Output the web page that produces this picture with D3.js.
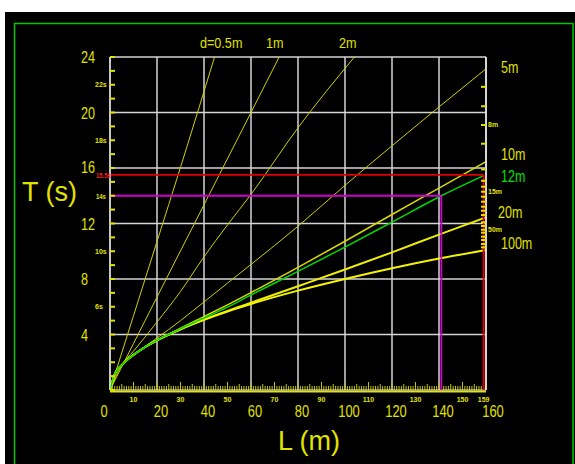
<!DOCTYPE html>
<html>
<head>
<meta charset="utf-8">
<script src="https://cdn.jsdelivr.net/npm/d3@7"></script>
<style>
  html, body { margin: 0; padding: 0; background: #fff; }
  svg { display: block; font-family: "Liberation Sans", Arial, sans-serif; }
</style>
</head>
<body>
<script>
// wave period T (s) against wave length L (m), one curve per water depth d

// steep shallow-water lines, each stops where it leaves the top of the chart
var lengths05 = [0, 10, 20, 30, 44.5];
var periods05 = [0, 5.35, 10.7, 16.05, 24];
var lengths1  = [0, 10, 20, 40, 60, 72];
var periods1  = [0, 3.35, 6.7, 13.35, 20.0, 24];
var lengths2  = [0, 5, 10, 20, 30, 40, 50, 60, 80, 104];
var periods2  = [0, 1.8, 2.8, 4.9, 7.1, 9.6, 11.9, 14.1, 18.9, 24];

// deeper curves read on a common length grid
var lengthGrid = [0, 2, 5, 10, 15, 20, 30, 40, 50, 60, 80, 100, 120, 140, 160];
var periods5   = [0, 1.13, 1.79, 2.54, 3.15, 3.75, 5.0, 6.35, 7.7, 9.05, 11.8, 14.75, 17.6, 20.4, 23.15];
var periods10  = [0, 1.13, 1.79, 2.53, 3.1, 3.59, 4.45, 5.29, 6.14, 7.02, 8.84, 10.72, 12.65, 14.55, 16.45];
var periods20  = [0, 1.13, 1.79, 2.53, 3.1, 3.58, 4.38, 5.07, 5.7, 6.29, 7.48, 8.68, 9.92, 11.2, 12.45];
var periods100 = [0, 1.13, 1.79, 2.53, 3.1, 3.58, 4.38, 5.06, 5.66, 6.2, 7.16, 8.0, 8.77, 9.47, 10.1];

// the highlighted 12 m curve ends on the red marker
var lengths12 = [0, 2, 5, 10, 15, 20, 30, 40, 50, 60, 80, 100, 120, 141, 159];
var periods12 = [0, 1.13, 1.79, 2.53, 3.1, 3.58, 4.41, 5.18, 5.97, 6.85, 8.55, 10.3, 12.1, 14.0, 15.45];

// reading markers (horizontal T, vertical L)
var markerT = [15.5, 14];
var markerL = [159, 141];
var markerText = ["15.5s", "14s"];

// axis labels
var periodMajor = [4, 8, 12, 16, 20, 24];
var periodMinorLabels = [22, 18, 10, 6];
var lengthMajor = [0, 20, 40, 60, 80, 100, 120, 140, 160];
var lengthMinorLabels = [10, 30, 50, 70, 90, 110, 130, 150, 159];

// depth ticks along the right edge (period at L = 160 m)
var rightTicks  = [21.85, 20.45, 19.1, 17.75, 15.9, 15.08, 14.65, 14.29, 13.93, 13.57, 13.21, 12.92, 12.61,
                   12.09, 11.82, 11.55, 11.34, 11.05, 10.81, 10.52, 10.28];
var rightLabels = ["", "", "8m", "", "", "", "", "15m", "", "", "", "", "",
                   "", "", "50m", "", "", "", "", ""];

var W = 575, H = 464;
var YEL = "#e2e200", GRID = "#d4d4d4";

var x = d3.scaleLinear().domain([0, 160]).range([110, 486]);
var y = d3.scaleLinear().domain([0, 24]).range([390, 57]);

var svg = d3.select("body").append("svg")
    .attr("width", W)
    .attr("height", H);

svg.append("rect").attr("width", W).attr("height", H).attr("fill", "#fff");
svg.append("rect").attr("x", 5).attr("y", 12).attr("width", W - 5).attr("height", H - 12).attr("fill", "#000");
svg.append("rect")
    .attr("x", 14.5).attr("y", 23.5)
    .attr("width", 558.5).attr("height", 500)
    .attr("fill", "none").attr("stroke", "#00c800").attr("stroke-width", 1.5);

// squeeze text to the narrow look of the original
function squeeze(sel, k) {
  sel.each(function() {
    var w = this.getComputedTextLength();
    d3.select(this).attr("textLength", w * k).attr("lengthAdjust", "spacingAndGlyphs");
  });
}

// grid
var grid = svg.append("g").attr("stroke", GRID).attr("stroke-width", 1.5);
grid.selectAll(".hg").data(periodMajor).enter().append("line")
    .attr("x1", x(0)).attr("x2", x(160))
    .attr("y1", function(d) { return y(d); })
    .attr("y2", function(d) { return y(d); });
grid.selectAll(".vg").data(lengthMajor).enter().append("line")
    .attr("x1", function(d) { return x(d); })
    .attr("x2", function(d) { return x(d); })
    .attr("y1", y(0)).attr("y2", y(24));

// bottom ruler ticks every metre
var rulerMetres = d3.range(0, 161);
svg.append("g").attr("stroke", "#c8c800").attr("stroke-width", 1)
  .selectAll("line").data(rulerMetres).enter().append("line")
    .attr("x1", function(d) { return x(d); })
    .attr("x2", function(d) { return x(d); })
    .attr("y1", y(0))
    .attr("y2", function(d) { return y(0) - (d % 10 === 0 ? 8 : d % 5 === 0 ? 6 : 4); });
svg.append("line").attr("x1", x(0)).attr("x2", x(160)).attr("y1", 391.5).attr("y2", 391.5)
    .attr("stroke", YEL).attr("stroke-width", 2);
svg.append("line").attr("x1", x(0)).attr("x2", x(160)).attr("y1", 390).attr("y2", 390)
    .attr("stroke", "#f0f0f0").attr("stroke-width", 1);

// curves
svg.append("clipPath").attr("id", "plot")
  .append("rect").attr("x", x(0)).attr("y", y(24)).attr("width", x(160) - x(0)).attr("height", y(0) - y(24));

var line = d3.line()
    .x(function(d) { return x(d[0]); })
    .y(function(d) { return y(d[1]); })
    .curve(d3.curveMonotoneX);

function pairs(ls, ts) { return ls.map(function(l, i) { return [l, ts[i]]; }); }

var curves = [
  {pts: pairs(lengths05, periods05), color: "#d0d000", w: 1},
  {pts: pairs(lengths1, periods1), color: "#d0d000", w: 1},
  {pts: pairs(lengths2, periods2), color: "#d0d000", w: 1},
  {pts: pairs(lengthGrid, periods5), color: "#d0d000", w: 1},
  {pts: pairs(lengthGrid, periods10), color: "#d8d800", w: 1.5},
  {pts: pairs(lengthGrid, periods20), color: "#eeee00", w: 2},
  {pts: pairs(lengthGrid, periods100), color: "#f4f400", w: 2},
  {pts: pairs(lengths12, periods12), color: "#00d800", w: 1.5}
];

svg.append("g").attr("clip-path", "url(#plot)")
  .selectAll("path").data(curves).enter().append("path")
    .attr("d", function(d) { return line(d.pts); })
    .attr("fill", "none")
    .attr("stroke", function(d) { return d.color; })
    .attr("stroke-width", function(d) { return d.w; });

// reading markers
var markerColor = ["#e00000", "#d000d0"];
var markers = svg.append("g");
markerT.forEach(function(t, i) {
  markers.append("line")
      .attr("x1", x(0)).attr("x2", x(markerL[i]))
      .attr("y1", y(t)).attr("y2", y(t))
      .attr("stroke", markerColor[i]).attr("stroke-width", 1.8);
  markers.append("line")
      .attr("x1", x(markerL[i])).attr("x2", x(markerL[i]))
      .attr("y1", y(t)).attr("y2", y(0))
      .attr("stroke", markerColor[i]).attr("stroke-width", 1.8);
});

// left/right borders and ticks
svg.append("line").attr("x1", x(0)).attr("x2", x(0)).attr("y1", y(0)).attr("y2", y(24))
    .attr("stroke", GRID).attr("stroke-width", 1.5);
svg.append("line").attr("x1", x(160)).attr("x2", x(160)).attr("y1", y(0)).attr("y2", y(24))
    .attr("stroke", "#e8e8e8").attr("stroke-width", 1.5);

svg.append("g").attr("stroke", YEL).attr("stroke-width", 2)
  .selectAll("line").data(d3.range(0, 25)).enter().append("line")
    .attr("x1", x(0)).attr("x2", x(0) + 5)
    .attr("y1", function(d) { return y(d); })
    .attr("y2", function(d) { return y(d); });

svg.append("g").attr("stroke", YEL).attr("stroke-width", 2)
  .selectAll("line").data(rightTicks).enter().append("line")
    .attr("x1", x(160) - 5).attr("x2", x(160))
    .attr("y1", function(d) { return y(d); })
    .attr("y2", function(d) { return y(d); });

// tick labels
var big = svg.append("g").attr("fill", YEL).attr("font-size", 17);
big.selectAll(".ly").data(periodMajor).enter().append("text")
    .attr("x", 81)
    .attr("y", function(d) { return y(d) + (d === 16 ? 4.5 : 6); })
    .text(function(d) { return d; })
    .call(squeeze, 0.74);
big.selectAll(".lx").data(lengthMajor).enter().append("text")
    .attr("text-anchor", "middle")
    .attr("x", function(d) { return x(d) + (d === 0 ? -6 : d === 160 ? 7 : 4); })
    .attr("y", 416.5)
    .text(function(d) { return d; })
    .call(squeeze, 0.76);

var small = svg.append("g").attr("fill", YEL).attr("font-size", 7).attr("font-weight", "bold");
small.selectAll(".sy").data(periodMinorLabels).enter().append("text")
    .attr("x", 95)
    .attr("y", function(d) { return y(d) + 2.5; })
    .text(function(d) { return d + "s"; });
small.selectAll(".sx").data(lengthMinorLabels).enter().append("text")
    .attr("text-anchor", "middle")
    .attr("x", function(d) { return x(d); })
    .attr("y", 401.5)
    .text(function(d) { return d; });
small.selectAll(".sr").data(rightTicks).enter().append("text")
    .attr("x", 488)
    .attr("y", function(d) { return y(d) + 2.5; })
    .text(function(d, i) { return rightLabels[i]; });
small.selectAll(".sm").data(markerT).enter().append("text")
    .attr("x", 96)
    .attr("y", function(d) { return y(d) + 3.2; })
    .attr("fill", function(d, i) { return i === 0 ? "#ff2020" : YEL; })
    .text(function(d, i) { return markerText[i]; })
    .call(squeeze, 0.85);

// depth labels
var topLabels = svg.append("g").attr("fill", YEL).attr("font-size", 14);
topLabels.append("text").attr("x", 200).attr("y", 48).text("d=0.5m").call(squeeze, 0.9);
topLabels.append("text").attr("x", 266).attr("y", 48).text("1m").call(squeeze, 0.9);
topLabels.append("text").attr("x", 339).attr("y", 48).text("2m").call(squeeze, 0.9);

var rightNames = ["5m", "10m", "12m", "20m", "100m"];
var rightEnds = [periods5[14], periods10[14], periods12[14], periods20[14], periods100[14]];
var rightDy = [4.5, -1.5, 6.5, 1, -0.5];
svg.append("g").attr("font-size", 16)
  .selectAll("text").data(rightNames).enter().append("text")
    .attr("x", function(d) { return d === "20m" ? 498 : 501; })
    .attr("y", function(d, i) { return y(rightEnds[i]) + rightDy[i]; })
    .attr("fill", function(d) { return d === "12m" ? "#00e000" : YEL; })
    .text(function(d) { return d; })
    .call(squeeze, 0.78);

// axis titles
svg.append("text").attr("x", 22).attr("y", 201).attr("font-size", 27).attr("fill", YEL).text("T (s)");
svg.append("text").attr("x", 278).attr("y", 450).attr("font-size", 27).attr("fill", YEL).text("L (m)");
</script>
</body>
</html>
